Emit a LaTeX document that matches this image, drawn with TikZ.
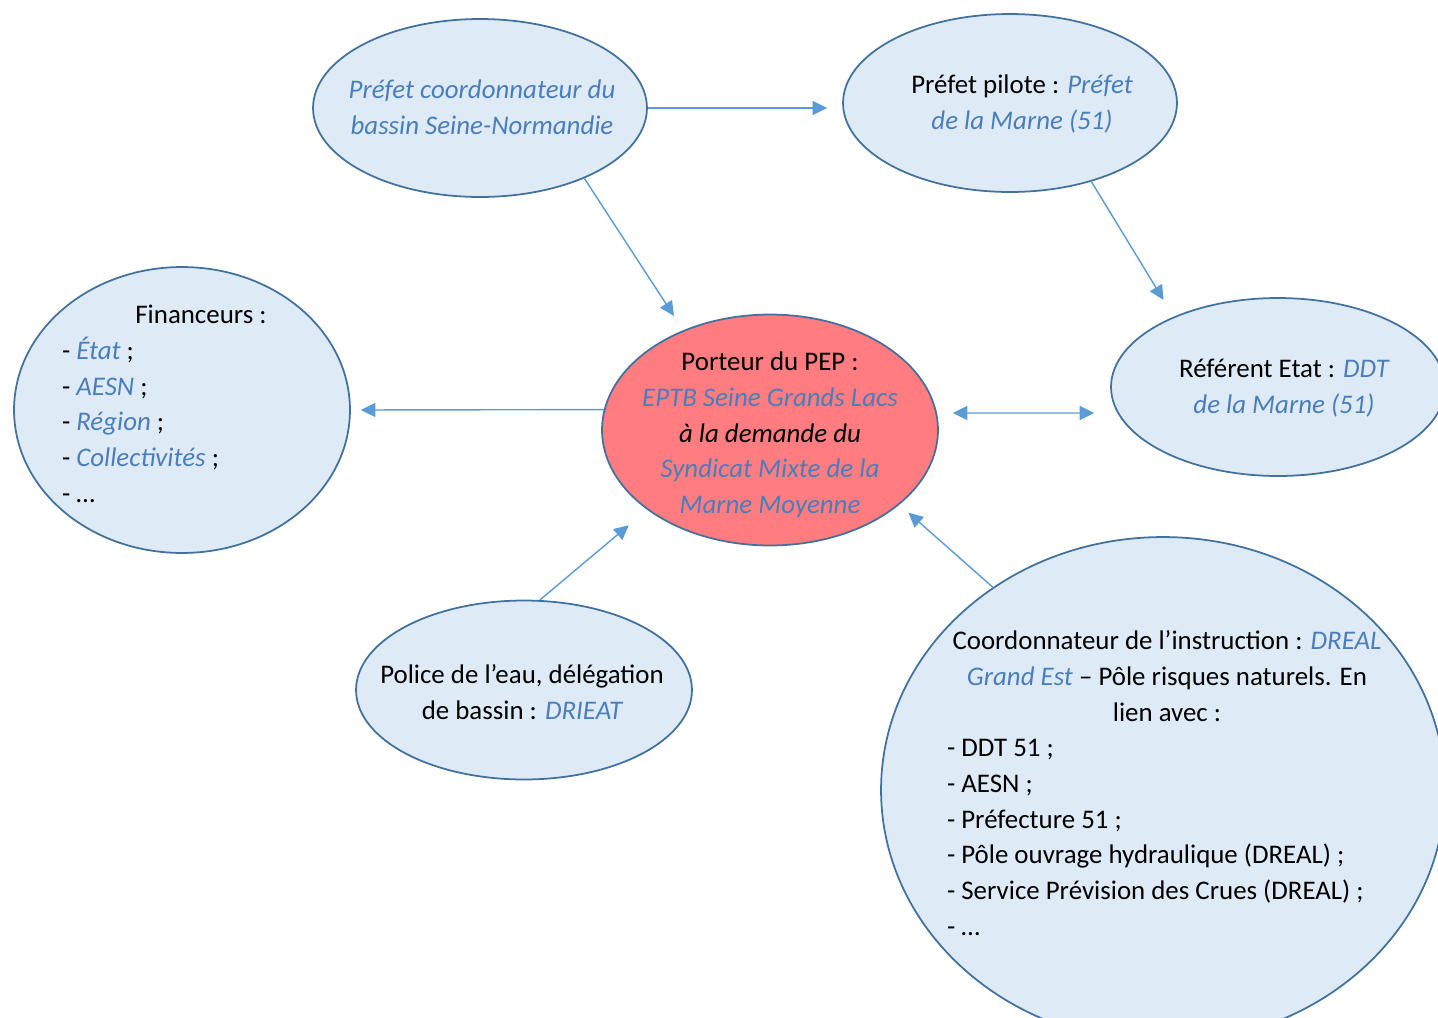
\documentclass[tikz,border=0pt]{standalone}
\usepackage{fontspec}
\setmainfont{Carlito}
\usepackage{xcolor}
\usetikzlibrary{arrows.meta}
\usetikzlibrary{shapes.geometric}

\definecolor{bord}{HTML}{41719C}
\definecolor{fond}{HTML}{DEEBF7}
\definecolor{rouge}{HTML}{FF7C80}
\definecolor{fleche}{HTML}{5B9BD5}
\definecolor{bleu}{HTML}{4A7EBB}

\newcommand{\bl}[1]{{\itshape\color{bleu}#1}}
\newcommand{\puce}[2]{\makebox[#1][l]{- #2}}

\tikzset{
  pointe/.tip={Triangle[length=2.9mm,width=2.8mm]},
  bulle/.style={ellipse, draw=bord, fill=fond, line width=1pt, inner sep=0pt},
  texte/.style={align=center, font=\fontsize{15.3}{20.3}\selectfont},
  fl/.style={draw=fleche, line width=0.8pt, -pointe},
}

\begin{document}
\begin{tikzpicture}[x=0.02cm, y=-0.02cm]
\useasboundingbox (0,0) rectangle (1438,1018);
% Bulles:
\node[bulle, minimum width=6.68cm, minimum height=3.56cm] (coord) at (480,108) {};
\node[bulle, minimum width=6.68cm, minimum height=3.56cm] (pil) at (1010,103) {};
\node[bulle, minimum width=6.68cm, minimum height=3.56cm] (ref) at (1278,387) {};
\node[bulle, minimum width=6.72cm, minimum height=5.72cm] (fin) at (182,410) {};
\node[bulle, fill=rouge, minimum width=6.72cm, minimum height=4.62cm] (port) at (770,430) {};
\node[bulle, minimum width=6.72cm, minimum height=3.58cm] (pol) at (524,690) {};
\node[bulle, minimum width=11.28cm, minimum height=10.12cm] (co) at (1163,790) {};
% Textes:
\node[texte] (coord-t) at (482,107) {\bl{Préfet coordonnateur du}\\ \bl{bassin Seine-Normandie}};
\node[texte] (pil-t) at (1022,104) {Préfet pilote : \bl{Préfet}\\ \bl{de la Marne (51)}};
\node[texte] (ref-t) at (1284,388) {Référent Etat : \bl{DDT}\\ \bl{de la Marne (51)}};
\node[texte] (fin-t) at (201,404) {Financeurs :\\
  \puce{5.56cm}{\bl{État} ;}\\
  \puce{5.56cm}{\bl{AESN} ;}\\
  \puce{5.56cm}{\bl{Région} ;}\\
  \puce{5.56cm}{\bl{Collectivités} ;}\\
  \puce{5.56cm}{…}};
\node[texte] (port-t) at (770,435) {Porteur du PEP :\\ \bl{EPTB Seine Grands Lacs}\\
  \textit{à la demande du}\\ \bl{Syndicat Mixte de la}\\ \bl{Marne Moyenne}};
\node[texte] (pol-t) at (522,692) {Police de l’eau, délégation\\ de bassin : \bl{DRIEAT}};
\node[texte] (co-t) at (1167,783) {Coordonnateur de l’instruction : \bl{DREAL}\\
  \bl{Grand Est} – Pôle risques naturels. En\\ lien avec :\\
  \puce{8.8cm}{DDT 51 ;}\\
  \puce{8.8cm}{AESN ;}\\
  \puce{8.8cm}{Préfecture 51 ;}\\
  \puce{8.8cm}{Pôle ouvrage hydraulique (DREAL) ;}\\
  \puce{8.8cm}{Service Prévision des Crues (DREAL) ;}\\
  \puce{8.8cm}{…}};
% Flèches:
\draw[fl, shorten >=0.3cm] (coord.east) -- (coord.east -| pil.west);
\draw[fl, shorten >=0.34cm] (coord.-34) -- (port.131);
\draw[fl, shorten >=0.39cm] (pil.-44) -- (ref.146);
\draw[fl, shorten >=0.2cm] (port.173) -- (fin.east);
\draw[fl, pointe-pointe, shorten <=0.28cm, shorten >=0.32cm] ([yshift=0.34cm]port.east) -- ([yshift=-0.52cm]ref.west);
\draw[fl, shorten >=0.48cm] (pol.80) -- (port.213);
\draw[fl, shorten >=0.24cm] (co.130) -- (port.-30);
\end{tikzpicture}
\end{document}
